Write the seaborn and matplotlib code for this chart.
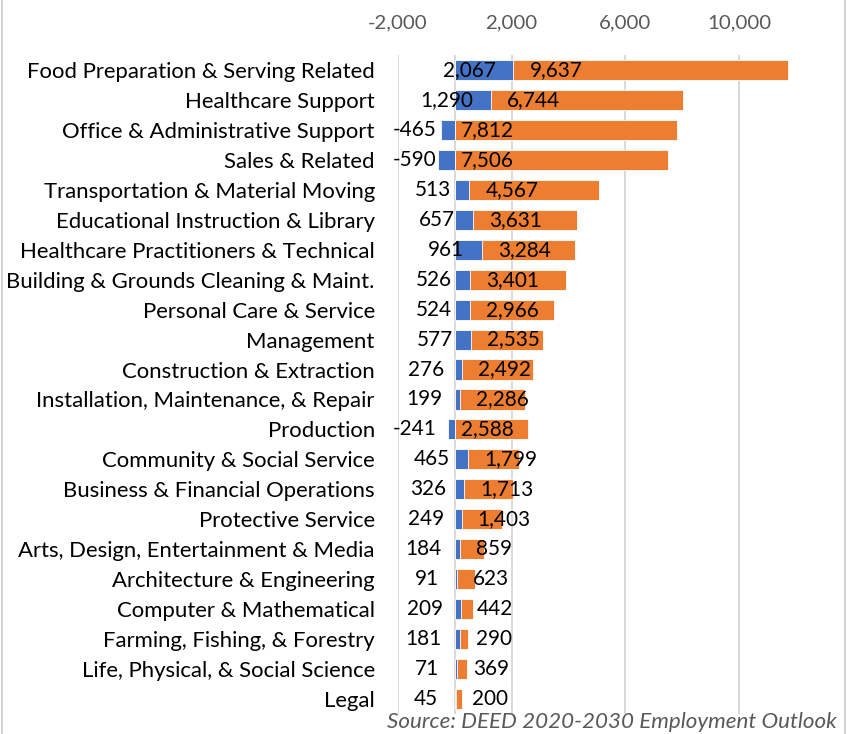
import matplotlib
matplotlib.use("Agg")
import matplotlib.pyplot as plt
import seaborn as sns
import pandas as pd
import numpy as np
from matplotlib.lines import Line2D

categories = [
    "Food Preparation & Serving Related",
    "Healthcare Support",
    "Office & Administrative Support",
    "Sales & Related",
    "Transportation & Material Moving",
    "Educational Instruction & Library",
    "Healthcare Practitioners & Technical",
    "Building & Grounds Cleaning & Maint.",
    "Personal Care & Service",
    "Management",
    "Construction & Extraction",
    "Installation, Maintenance, & Repair",
    "Production",
    "Community & Social Service",
    "Business & Financial Operations",
    "Protective Service",
    "Arts, Design, Entertainment & Media",
    "Architecture & Engineering",
    "Computer & Mathematical",
    "Farming, Fishing, & Forestry",
    "Life, Physical, & Social Science",
    "Legal",
]
change = [2067, 1290, -465, -590, 513, 657, 961, 526, 524, 577, 276, 199,
          -241, 465, 326, 249, 184, 91, 209, 181, 71, 45]
openings = [9637, 6744, 7812, 7506, 4567, 3631, 3284, 3401, 2966, 2535, 2492,
            2286, 2588, 1799, 1713, 1403, 859, 623, 442, 290, 369, 200]
tick_values = [-2000, 2000, 6000, 10000]
source_text = "Source: DEED 2020-2030 Employment Outlook"

BLUE = "#4472C4"
ORANGE = "#ED7D31"
GRID = "#D9D9D9"
TICKGREY = "#595959"

sns.set_theme(style="white")
FAM = ["Lato", "DejaVu Sans"]
plt.rcParams["font.family"] = FAM

W, H, DPI = 853, 734, 100
fig = plt.figure(figsize=(W / DPI, H / DPI), dpi=DPI)
renderer = fig.canvas.get_renderer()


def fit_size(text, target_px, style="normal", base=20.0):
    t = fig.text(0, 0, text, fontsize=base, family=FAM, style=style)
    w = t.get_window_extent(renderer).width
    t.remove()
    return base * target_px / w


cat_fs = fit_size("Food Preparation & Serving Related", 348)
num_fs = fit_size("2,067", 53)
tick_fs = fit_size("10,000", 64)
src_fs = fit_size(source_text, 449, style="italic")

# axes placement (pixels from top-left)
left_px, right_px, top_px, bot_px = 397.7, 853.2, 55, 714
ax = fig.add_axes([left_px / W, (H - bot_px) / H,
                   (right_px - left_px) / W, (bot_px - top_px) / H])

df = pd.DataFrame({"category": categories, "change": change, "openings": openings})
df["pos_base"] = df["change"].clip(lower=0)
df["orange_end"] = df["pos_base"] + df["openings"]

ax.set_axisbelow(True)
sns.barplot(data=df, x="orange_end", y="category", orient="h", color=ORANGE,
            saturation=1, width=0.67, edgecolor="white", linewidth=0.6, ax=ax)
sns.barplot(data=df, x="change", y="category", orient="h", color=BLUE,
            saturation=1, width=0.67, edgecolor="white", linewidth=0.6, ax=ax)

ax.set_xlim(-2000, 14000)
ax.set_xticks(tick_values)
ax.set_xticklabels([f"{v:,}" for v in tick_values], fontsize=tick_fs, color=TICKGREY)
ax.xaxis.tick_top()
ax.tick_params(axis="x", length=0, pad=17)
ax.tick_params(axis="y", length=0, pad=16.5, labelsize=cat_fs, labelcolor="black")
ax.set_xlabel("")
ax.set_ylabel("")
ax.grid(axis="x", color=GRID, linewidth=1.4)
ax.grid(axis="y", visible=False)
ax.axvline(0, color=GRID, linewidth=1.4, zorder=0.5)
for s in ax.spines.values():
    s.set_visible(False)

for i, (c, o) in enumerate(zip(change, openings)):
    base = max(c, 0)
    ax.annotate(f"{c:,}", xy=(base, i), xytext=(-18, 0), textcoords="offset pixels",
                ha="right", va="center", fontsize=num_fs, color="black")
    off = 16 if c >= 0 else 6
    ax.annotate(f"{o:,}", xy=(base, i), xytext=(off, 0), textcoords="offset pixels",
                ha="left", va="center", fontsize=num_fs, color="black")

fig.text(837 / W, (H - 728) / H, source_text, ha="right", va="baseline",
         fontsize=src_fs, style="italic", color=TICKGREY)

# chart border lines
for xp in (2, 845):
    fig.add_artist(Line2D([xp / W, xp / W], [0, 1], transform=fig.transFigure,
                          color="#C8C8C8", linewidth=1.2))

fig.savefig("out.png", dpi=DPI)
